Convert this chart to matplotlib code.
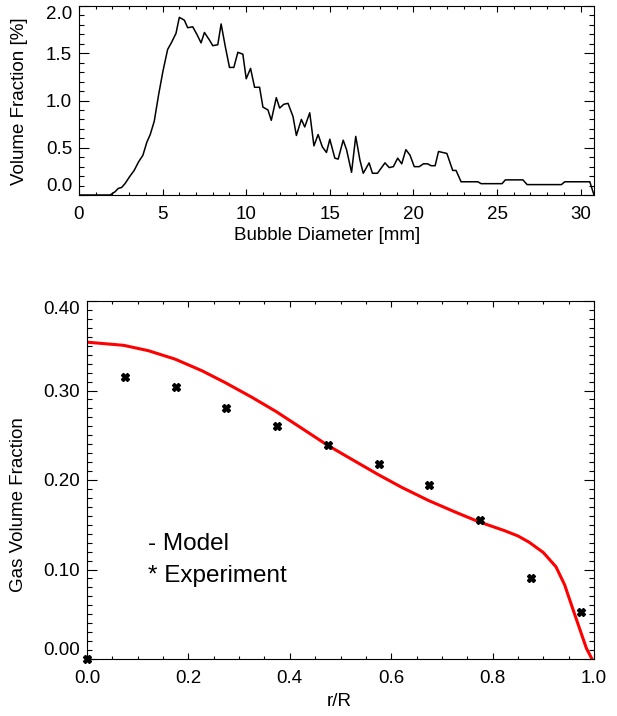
import matplotlib
matplotlib.use('Agg')
import matplotlib.pyplot as plt
from matplotlib.ticker import MultipleLocator

plt.rcParams['font.family'] = ['Liberation Sans', 'DejaVu Sans']

# bubble size distribution
diam = [0, 0.5, 1.0, 1.5, 1.86, 2.16, 2.35, 2.55, 2.75, 3.05, 3.3, 3.56, 3.82, 4.06, 4.26,
        4.5, 4.76, 5.02, 5.3, 5.52, 5.8, 6.0, 6.3, 6.5, 6.8, 7.05, 7.3, 7.5, 7.8, 8.0,
        8.3, 8.5, 8.75, 9.0, 9.26, 9.5, 9.8, 10.0, 10.26, 10.5, 10.8, 11.0, 11.3, 11.5, 11.8,
        12.0, 12.25, 12.5, 12.8, 13.0, 13.3, 13.5, 13.8, 14.05, 14.3, 14.55, 14.8, 15.0, 15.3, 15.5,
        15.8, 16.0, 16.3, 16.55, 16.8, 17.0, 17.35, 17.55, 17.85, 18.3, 18.55, 18.8, 19.06, 19.3, 19.55,
        19.8, 20.05, 20.35, 20.6, 20.85, 21.05, 21.3, 21.5, 21.75, 22.0, 22.35, 22.55, 22.85, 23.85, 24.05,
        25.3, 25.5, 26.55, 26.8, 28.85, 29.05, 30.55, 30.8]
vol_frac = [0, 0, 0, 0, 0, 0.035, 0.07, 0.08, 0.12, 0.2, 0.26, 0.35, 0.42, 0.56, 0.64,
            0.78, 1.06, 1.31, 1.54, 1.61, 1.71, 1.88, 1.85, 1.77, 1.78, 1.70, 1.61, 1.72, 1.64, 1.58,
            1.59, 1.81, 1.57, 1.35, 1.35, 1.51, 1.49, 1.23, 1.34, 1.14, 1.14, 0.93, 0.90, 0.79, 1.03,
            0.92, 0.96, 0.97, 0.83, 0.63, 0.80, 0.72, 0.87, 0.52, 0.64, 0.51, 0.45, 0.59, 0.39, 0.38,
            0.58, 0.48, 0.24, 0.62, 0.37, 0.23, 0.34, 0.23, 0.23, 0.34, 0.29, 0.30, 0.39, 0.33, 0.48,
            0.42, 0.30, 0.30, 0.33, 0.33, 0.31, 0.31, 0.46, 0.45, 0.44, 0.26, 0.26, 0.14, 0.14, 0.12,
            0.12, 0.16, 0.16, 0.11, 0.11, 0.14, 0.14, 0.0]

# radial gas fraction profile
r_model = [0, 0.072, 0.121, 0.174, 0.227, 0.272, 0.325, 0.373, 0.423, 0.474, 0.521, 0.573,
           0.62, 0.674, 0.725, 0.772, 0.823, 0.85, 0.872, 0.9, 0.925, 0.942, 0.96, 0.974, 0.985, 0.996]
gas_model = [0.354, 0.3505, 0.3445, 0.335, 0.322, 0.309, 0.2925, 0.2765, 0.258, 0.239, 0.2235, 0.2065,
             0.192, 0.177, 0.1645, 0.1535, 0.1435, 0.1375, 0.1305, 0.119, 0.103, 0.083, 0.053, 0.030, 0.012, 0.0]
r_exp = [0.0, 0.075, 0.175, 0.275, 0.375, 0.475, 0.575, 0.675, 0.775, 0.875, 0.975]
gas_exp = [0.0, 0.315, 0.304, 0.281, 0.260, 0.239, 0.218, 0.194, 0.155, 0.090, 0.052]

top_yticks = [0.0, 0.5, 1.0, 1.5, 2.0]
top_xticks = [0, 5, 10, 15, 20, 25, 30]
bot_xticks = [0.0, 0.2, 0.4, 0.6, 0.8, 1.0]
bot_yticks = [0.0, 0.1, 0.2, 0.3, 0.4]

fs = 13.5


def style(ax):
    for s in ax.spines.values():
        s.set_linewidth(0.8)
    ax.tick_params(which='both', direction='in', top=True, right=True, labelsize=fs, width=0.8)
    ax.tick_params(axis='x', which='major', length=4.5, pad=8)
    ax.tick_params(axis='x', which='minor', length=2.3)
    ax.tick_params(axis='y', which='major', length=7, pad=5)
    ax.tick_params(axis='y', which='minor', length=3.4)


fig = plt.figure(figsize=(6.17, 7.16), dpi=100)

ax1 = fig.add_axes([79 / 617, 1 - 195 / 716, 515 / 617, 189 / 716])
ax1.plot(diam, vol_frac, color='black', lw=1.1)
ax1.set_xlim(0, 30.8)
ax1.set_ylim(0, 2.0)
ax1.set_xticks(top_xticks)
ax1.set_xticklabels([str(t) for t in top_xticks])
ax1.set_yticks(top_yticks)
ax1.set_yticklabels(['%.1f' % t for t in top_yticks])
ax1.xaxis.set_minor_locator(MultipleLocator(1))
ax1.yaxis.set_minor_locator(MultipleLocator(0.1))
style(ax1)
ax1.get_yticklabels()[0].set_va('bottom')
ax1.get_yticklabels()[-1].set_va('top')
ax1.set_xlabel('Bubble Diameter [mm]', fontsize=fs, va='center')
ax1.xaxis.set_label_coords(0.4825, -0.212)
ax1.set_ylabel('Volume Fraction [%]', fontsize=fs, va='center')
ax1.yaxis.set_label_coords(-0.115, 0.497)

ax2 = fig.add_axes([87 / 617, 1 - 659 / 716, 507 / 617, 358 / 716])
ax2.plot(r_model, gas_model, color='#ff0000', lw=2.2, solid_joinstyle='round')
ax2.plot(r_exp, gas_exp, ls='none', marker='X', ms=5.5, color='black', clip_on=False)
ax2.set_xlim(0, 1.0)
ax2.set_ylim(0, 0.4)
ax2.set_xticks(bot_xticks)
ax2.set_xticklabels(['%.1f' % t for t in bot_xticks])
ax2.set_yticks(bot_yticks)
ax2.set_yticklabels(['%.2f' % t for t in bot_yticks])
ax2.xaxis.set_minor_locator(MultipleLocator(0.05))
ax2.yaxis.set_minor_locator(MultipleLocator(0.01))
style(ax2)
ax2.get_yticklabels()[0].set_va('bottom')
ax2.get_yticklabels()[-1].set_va('top')
ax2.set_xlabel('r/R', fontsize=fs, va='center')
ax2.xaxis.set_label_coords(0.497, -0.119)
ax2.set_ylabel('Gas Volume Fraction', fontsize=fs, va='center')
ax2.yaxis.set_label_coords(-0.136, 0.43)

ax2.text(0.12, 0.128, '- Model', fontsize=17.5, va='center')
ax2.text(0.12, 0.093, '* Experiment', fontsize=17.5, va='center')

fig.savefig('out.png', dpi=100)
